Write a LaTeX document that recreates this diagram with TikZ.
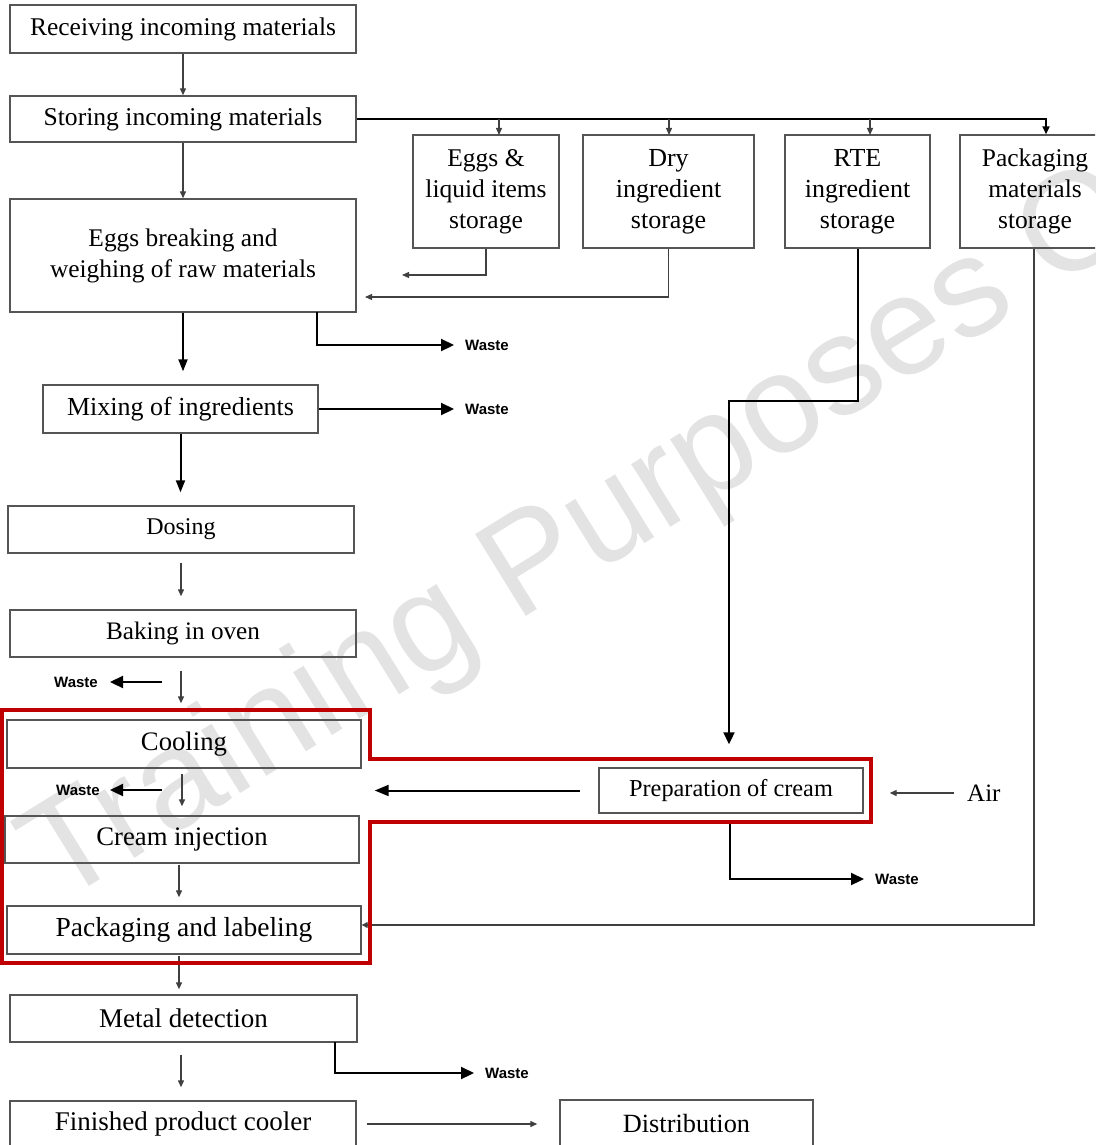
\documentclass[tikz,border=0pt]{standalone}
\usepackage{fontspec}
\setmainfont{Liberation Serif}
\newfontfamily\wastefamily{Liberation Sans}
\newfontfamily\wmfamily{Liberation Sans}
\usetikzlibrary{arrows.meta}
\newcommand{\fsz}[1]{\fontsize{#1}{31}\selectfont}
\definecolor{framered}{RGB}{192,0,0}
\definecolor{boxline}{RGB}{85,85,85}
\begin{document}
\begin{tikzpicture}[x=1pt,y=-1pt,
  box/.style={draw=boxline, line width=1.4pt, inner sep=0pt, align=center, font=\fsz{25.5}},
  thinarr/.style={draw=black!75, line width=1.3pt, -{Triangle[length=7pt,width=6pt]}},
  thickarr/.style={draw=black, line width=2pt, -{Triangle[length=12pt,width=9pt]}},
  wastearr/.style={draw=black, line width=2.2pt, -{Triangle[length=13pt,width=12pt]}},
  busline/.style={draw=black, line width=2.4pt},
  wastelbl/.style={inner sep=0pt, font=\wastefamily\bfseries\fontsize{15}{18}\selectfont},
  redframe/.style={draw=framered, line width=4pt, line join=miter}
]
\useasboundingbox (0,0) rectangle (1095,1145);
\clip (0,0) rectangle (1095,1145);

% watermark
\node[rotate=31.75, anchor=base west, inner sep=0pt, text=black!11,
      font=\wmfamily\fontsize{140}{140}\selectfont] (wm) at (58,906) {Training Purposes Only};

% main column
\node[box, minimum width=346pt, minimum height=48pt] (recv) at (183,29) {Receiving incoming materials};
\node[box, minimum width=346pt, minimum height=46pt, font=\fsz{25.6}] (store) at (183,119) {Storing incoming materials};
\node[box, minimum width=346pt, minimum height=113pt, font=\fsz{25.4}] (eggbreak) at (183,255.5) {Eggs breaking and\\weighing of raw materials};
\node[box, minimum width=275pt, minimum height=48pt, font=\fsz{26}] (mix) at (180.5,409) {Mixing of ingredients};
\node[box, minimum width=346pt, minimum height=47pt, font=\fsz{24}] (dose) at (181,529.5) {Dosing};
\node[box, minimum width=346pt, minimum height=47pt, font=\fsz{25.2}] (bake) at (183,633.5) {Baking in oven};
\node[box, minimum width=354pt, minimum height=48pt, font=\fsz{26.7}] (cool) at (184,744) {Cooling};
\node[box, minimum width=354pt, minimum height=47pt, font=\fsz{26.7}] (cream) at (182,839.5) {Cream injection};
\node[box, minimum width=354pt, minimum height=48pt, font=\fsz{27.5}] (packlab) at (184,930) {Packaging and labeling};
\node[box, minimum width=347pt, minimum height=47pt, font=\fsz{27}] (metal) at (183.5,1018.5) {Metal detection};
\node[box, minimum width=346pt, minimum height=46pt, font=\fsz{27}] (finished) at (183,1124) {Finished product cooler};
\node[box, minimum width=253pt, minimum height=46pt, font=\fsz{26.3}] (distrib) at (686.5,1123) {Distribution};

% storages
\node[box, minimum width=146pt, minimum height=113pt, font=\fsz{25.5}] (eggliq) at (486,191.5) {Eggs \&\\liquid items\\storage};
\node[box, minimum width=171pt, minimum height=113pt, font=\fsz{26}] (dry) at (668.5,191.5) {Dry\\ingredient\\storage};
\node[box, minimum width=145pt, minimum height=113pt, font=\fsz{26}] (rte) at (857.5,191.5) {RTE\\ingredient\\storage};
\node[box, minimum width=150pt, minimum height=113pt, font=\fsz{25.5}] (pack) at (1035,191.5) {Packaging\\materials\\storage};

% cream
\node[box, minimum width=264pt, minimum height=45pt, font=\fsz{24.3}] (prep) at (731,790.5) {Preparation of cream};
\node[inner sep=0pt, anchor=west, font=\fsz{25}] (air) at (967,793) {Air};

% waste labels
\node[wastelbl, anchor=west] (w1) at (465,345) {Waste};
\node[wastelbl, anchor=west] (w2) at (465,409) {Waste};
\node[wastelbl, anchor=east] (w3) at (98,682) {Waste};
\node[wastelbl, anchor=east] (w4) at (100,790) {Waste};
\node[wastelbl, anchor=west] (w5) at (485,1073) {Waste};
\node[wastelbl, anchor=west] (w6) at (875,879) {Waste};

% coordinates
\coordinate (bus) at (1046,119);
\coordinate (t1) at (499,135);
\coordinate (t2) at (669,135);
\coordinate (t3) at (870,135);
\coordinate (el) at (402,275);
\coordinate (dl) at (365,297);
\coordinate (r1) at (729,401);
\coordinate (p1) at (1034,925);
\coordinate (e1) at (317,312);
\coordinate (bw) at (162,682);
\coordinate (cw) at (162,790);
\coordinate (m1) at (335,1042);
\coordinate (pw) at (730,823);

% connectors
\draw[thinarr] (recv.south) -- (store.north);
\draw[thinarr] (store.south) -- (eggbreak.north);
\draw[busline, -{Triangle[length=8pt,width=7pt]}] (store.east) -- (bus) -- (bus |- pack.north);
\draw[thinarr] (t1 |- bus) -- (t1);
\draw[thinarr] (t2 |- bus) -- (t2);
\draw[thinarr] (t3 |- bus) -- (t3);
\draw[thinarr] (eggliq.south) |- (el);
\draw[thinarr] (dry.south) |- (dl);
\draw[thickarr, -{Triangle[length=12pt,width=11pt]}, shorten >=23pt] (rte.south) |- (r1) -- (r1 |- prep.north);
\draw[thinarr, -{Triangle[length=6pt,width=6pt]}] (p1 |- pack.south) -- (p1) -- (p1 -| packlab.east);

\draw[thickarr, shorten >=13pt] (eggbreak.south) -- (eggbreak.south |- mix.north);
\draw[wastearr, shorten >=11pt] (e1) |- (w1.west);
\draw[wastearr, shorten >=11pt] (mix.east) -- (w2.west);
\draw[thickarr, shorten >=13pt] (mix.south) -- (mix.south |- dose.north);
\draw[thinarr, shorten <=9pt, shorten >=13pt] (dose.south) -- (dose.south |- bake.north);
\draw[thinarr, shorten <=13pt, shorten >=16pt] (dose.south |- bake.south) -- (dose.south |- cool.north);
\draw[wastearr, shorten >=12pt] (bw) -- (w3.east);
\draw[thinarr, shorten <=5pt, shorten >=9pt] (cream.north |- cool.south) -- (cream.north);
\draw[wastearr, shorten >=10pt] (cw) -- (w4.east);
\draw[thinarr, shorten <=1pt, shorten >=8pt] ([xshift=-3pt]cream.south) -- ([xshift=-3pt]cream.south |- packlab.north);
\draw[thinarr, shorten <=1pt, shorten >=5pt] ([xshift=-3pt]cream.south |- packlab.south) -- ([xshift=-3pt]cream.south |- metal.north);
\draw[wastearr, shorten >=11pt] (m1) |- (w5.west);
\draw[thinarr, shorten <=12pt, shorten >=13pt] (dose.south |- metal.south) -- (dose.south |- finished.north);
\draw[thinarr, shorten <=10pt, shorten >=22pt] (finished.east) -- (finished.east -| distrib.west);

\draw[thickarr, -{Triangle[length=14pt,width=11pt]}, shorten <=18pt, shorten >=13pt] (prep.west) -- (prep.west -| cool.east);
\draw[thinarr, shorten <=13pt, shorten >=26pt] (air.west) -- (air.west -| prep.east);
\draw[wastearr, shorten >=11pt] (pw) |- (w6.west);

% red frame
\draw[redframe] (1.5,710) -- (370,710) -- (370,759) -- (871,759) -- (871,822) -- (370,822) -- (370,963) -- (1.5,963) -- cycle;
\end{tikzpicture}
\end{document}
